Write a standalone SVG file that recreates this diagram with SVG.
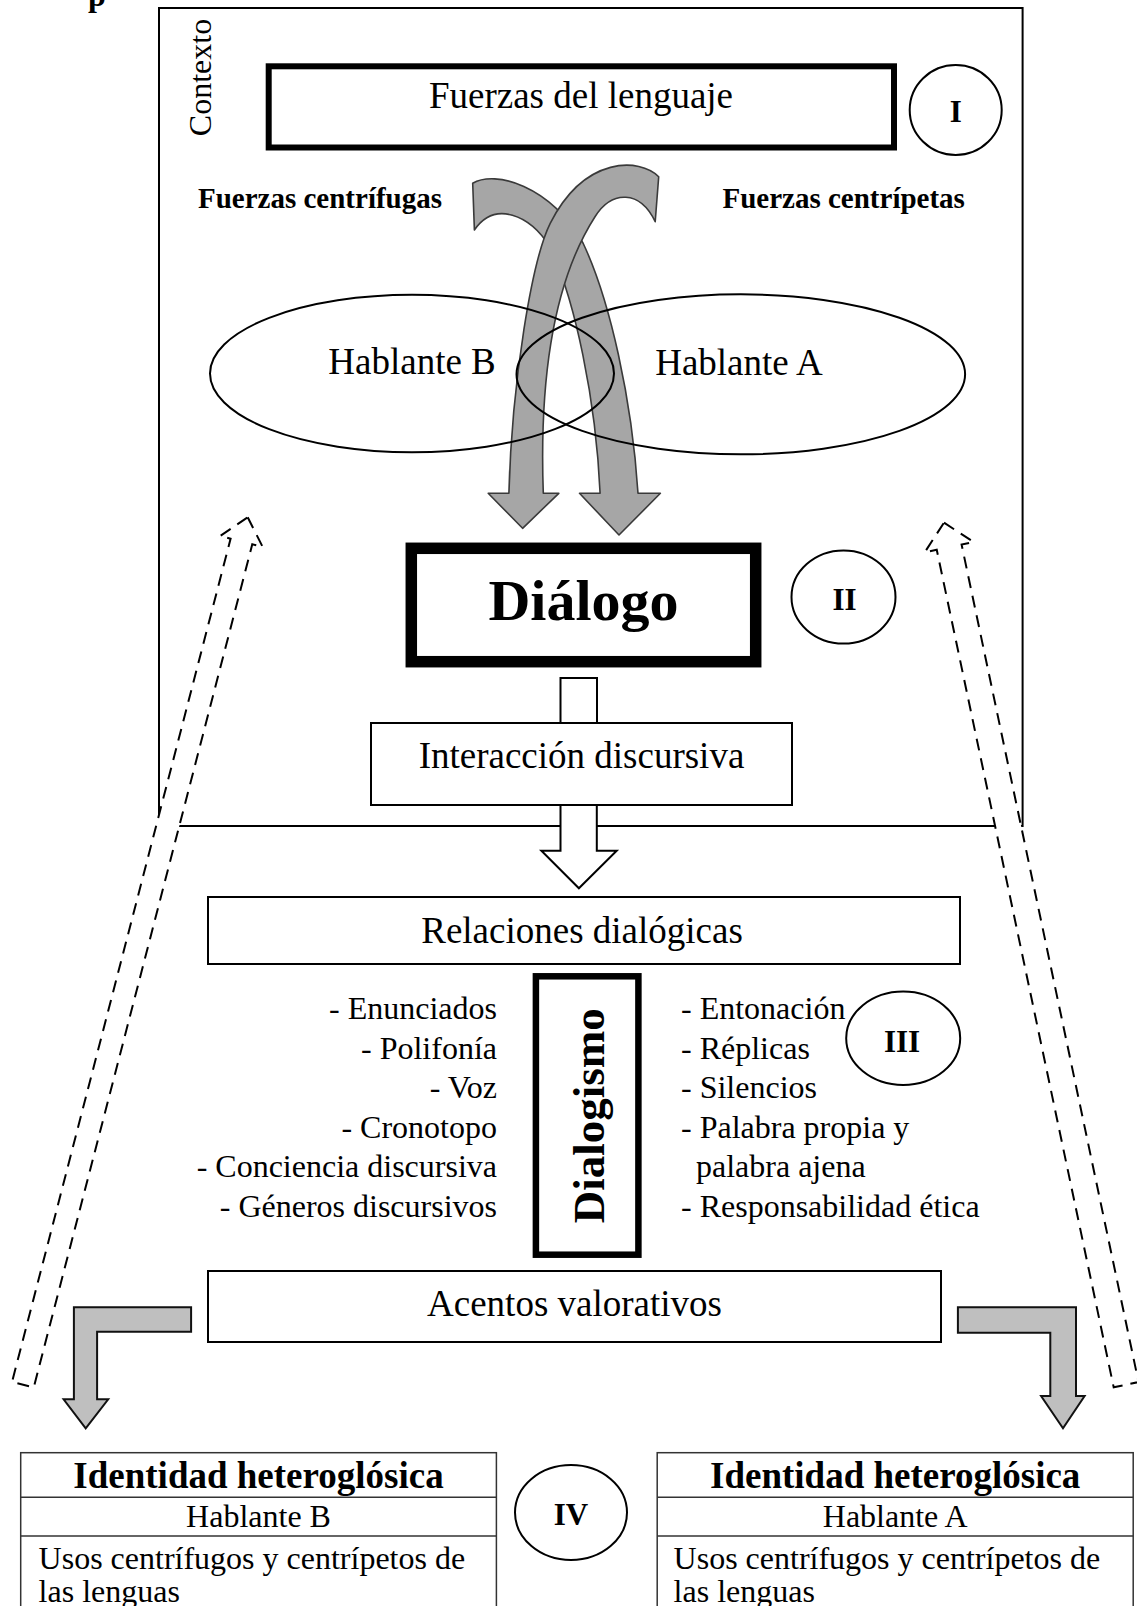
<svg xmlns="http://www.w3.org/2000/svg" width="1137" height="1606" viewBox="0 0 1137 1606">
<style>
.t{font-family:"Liberation Serif","Times New Roman",serif;fill:#000}
.b{font-weight:bold}
.box{fill:#fff;stroke:#000;stroke-width:2}
.thin{fill:#fff;stroke:#333;stroke-width:1.5}
.circ{fill:#fff;stroke:#000;stroke-width:2}
.curved{fill:#a6a6a6;stroke:#3a3a3a;stroke-width:1.6;stroke-linejoin:round}
.bent{fill:#bfbfbf;stroke:#111;stroke-width:2;stroke-linejoin:miter}
.hollow{fill:#fff;stroke:#000;stroke-width:2}
.dash{fill:#fff;stroke:#000;stroke-width:2;stroke-dasharray:12 8}
</style>
<rect width="1137" height="1606" fill="#fff"/>
<text class="t b" x="88" y="6" font-size="32">p</text>
<g id="contexto">
<rect x="159" y="8" width="863.6" height="818" fill="none" stroke="#000" stroke-width="2"/>
<text class="t" transform="translate(211,77.5) rotate(-90)" text-anchor="middle" font-size="32">Contexto</text>
</g>
<g id="connectors">
<path class="curved" d="M472.7,183.3 C495,170 550,185 583,243 C610,300 632,400 638,493.3 L660.4,493.3 L619,535 L579.5,493.3 L600.1,493.3 C596,400 575,300 550,247 C530,215 495,200 474.4,230 Z"/>
<path class="curved" d="M658.7,176.7 C640,158 585,155 550.2,223.3 C532,260 512,380 508.9,493.3 L488.2,493.3 L522.6,528.3 L558.8,493.3 L543.3,493.3 C540,400 548,290 595,216.7 C612,190 640,190 655.2,221.7 Z"/>
<path class="hollow" d="M560.5,723 V678 H597 V723"/>
<path class="hollow" d="M560.5,805 V850.7 H541.4 L578.9,888.3 L616.7,850.7 H596.8 V805"/>
<path class="bent" d="M191.1,1307.3 H73.9 V1399.3 H63.6 L85.7,1428.3 L108.2,1399.3 H97.1 V1331.7 H191.1 Z"/>
<path class="bent" d="M957.9,1307.3 H1076 V1396 H1084.6 L1063,1428.3 L1041.1,1396 H1050.3 V1332.7 H957.9 Z"/>
<polygon class="dash" transform="translate(247.7,517.3) rotate(14.53)" points="0,0 22,25 11.2,25 11.2,896 -11.2,896 -11.2,25 -22,25"/>
<polygon class="dash" transform="translate(944,522.7) rotate(-11.93)" points="0,0 25,25 12.7,25 12.7,881 -12.7,881 -12.7,25 -25,25"/>
</g>
<g id="fuerzas-lenguaje">
<rect x="268.7" y="66.3" width="625.3" height="81.2" fill="#fff" stroke="#000" stroke-width="6"/>
<text class="t" x="581" y="108" text-anchor="middle" font-size="37">Fuerzas del lenguaje</text>
</g>
<g id="nivel-I">
<ellipse class="circ" cx="955.7" cy="110" rx="46" ry="45"/>
<text class="t b" x="955.7" y="122" text-anchor="middle" font-size="31">I</text>
</g>
<g id="fuerzas-centrifugas"><text class="t b" x="198" y="208" font-size="29">Fuerzas centrífugas</text></g>
<g id="fuerzas-centripetas"><text class="t b" x="722.5" y="208" font-size="29">Fuerzas centrípetas</text></g>
<g id="hablante-b">
<ellipse cx="412" cy="373.5" rx="202" ry="78.7" fill="none" stroke="#000" stroke-width="2"/>
<text class="t" x="328.3" y="374" font-size="37">Hablante B</text>
</g>
<g id="hablante-a">
<ellipse cx="740.8" cy="374.3" rx="224.3" ry="80" fill="none" stroke="#000" stroke-width="2"/>
<text class="t" x="655.2" y="375" font-size="37">Hablante A</text>
</g>
<g id="dialogo">
<rect x="411.3" y="548.3" width="344.4" height="113.4" fill="#fff" stroke="#000" stroke-width="11.5"/>
<text class="t b" x="583.5" y="620" text-anchor="middle" font-size="58">Diálogo</text>
</g>
<g id="nivel-II">
<ellipse class="circ" cx="843.5" cy="597" rx="52" ry="46.5"/>
<text class="t b" x="844.5" y="610" text-anchor="middle" font-size="31">II</text>
</g>
<g id="interaccion">
<rect class="box" x="371" y="723" width="421" height="82"/>
<text class="t" x="581.5" y="768" text-anchor="middle" font-size="37">Interacción discursiva</text>
</g>
<g id="relaciones">
<rect class="box" x="208" y="897" width="752" height="67"/>
<text class="t" x="582" y="943" text-anchor="middle" font-size="37">Relaciones dialógicas</text>
</g>
<g id="dialogismo">
<rect x="535.9" y="976.3" width="102.5" height="278.4" fill="#fff" stroke="#000" stroke-width="6.5"/>
<text class="t b" transform="translate(603.5,1115.8) rotate(-90)" text-anchor="middle" font-size="45">Dialogismo</text>
</g>
<g id="lista-izquierda" class="t" font-size="32" text-anchor="end">
<text x="497" y="1019">- Enunciados</text>
<text x="497" y="1058.6">- Polifonía</text>
<text x="497" y="1098.2">- Voz</text>
<text x="497" y="1137.8">- Cronotopo</text>
<text x="497" y="1177.4">- Conciencia discursiva</text>
<text x="497" y="1217">- Géneros discursivos</text>
</g>
<g id="lista-derecha" class="t" font-size="32">
<text x="681" y="1019">- Entonación</text>
<text x="681" y="1058.6">- Réplicas</text>
<text x="681" y="1098.2">- Silencios</text>
<text x="681" y="1137.8">- Palabra propia y</text>
<text x="696" y="1177.4">palabra ajena</text>
<text x="681" y="1217">- Responsabilidad ética</text>
</g>
<g id="nivel-III">
<ellipse class="circ" cx="903.2" cy="1038.3" rx="57" ry="46.7"/>
<text class="t b" x="902" y="1052" text-anchor="middle" font-size="31">III</text>
</g>
<g id="acentos">
<rect class="box" x="208" y="1271" width="733" height="71"/>
<text class="t" x="574.5" y="1316" text-anchor="middle" font-size="37">Acentos valorativos</text>
</g>
<g id="nivel-IV">
<ellipse class="circ" cx="571" cy="1512.5" rx="56" ry="47.5"/>
<text class="t b" x="571" y="1525" text-anchor="middle" font-size="31">IV</text>
</g>
<g id="identidad-b">
<rect class="thin" x="20.7" y="1452.7" width="475.7" height="170"/>
<line x1="20.7" y1="1497.3" x2="496.4" y2="1497.3" stroke="#333" stroke-width="1.5"/>
<line x1="20.7" y1="1536" x2="496.4" y2="1536" stroke="#333" stroke-width="1.5"/>
<text class="t b" x="258.5" y="1488.3" text-anchor="middle" font-size="37">Identidad heteroglósica</text>
<text class="t" x="258.5" y="1526.7" text-anchor="middle" font-size="32">Hablante B</text>
<text class="t" x="38.6" y="1568.5" font-size="32">Usos centrífugos y centrípetos de</text>
<text class="t" x="38.6" y="1602" font-size="32">las lenguas</text>
</g>
<g id="identidad-a">
<rect class="thin" x="657.2" y="1452.7" width="476" height="170"/>
<line x1="657.2" y1="1497.3" x2="1133.2" y2="1497.3" stroke="#333" stroke-width="1.5"/>
<line x1="657.2" y1="1536" x2="1133.2" y2="1536" stroke="#333" stroke-width="1.5"/>
<text class="t b" x="895.2" y="1488.3" text-anchor="middle" font-size="37">Identidad heteroglósica</text>
<text class="t" x="895.2" y="1526.7" text-anchor="middle" font-size="32">Hablante A</text>
<text class="t" x="673.6" y="1568.5" font-size="32">Usos centrífugos y centrípetos de</text>
<text class="t" x="673.6" y="1602" font-size="32">las lenguas</text>
</g>
</svg>
